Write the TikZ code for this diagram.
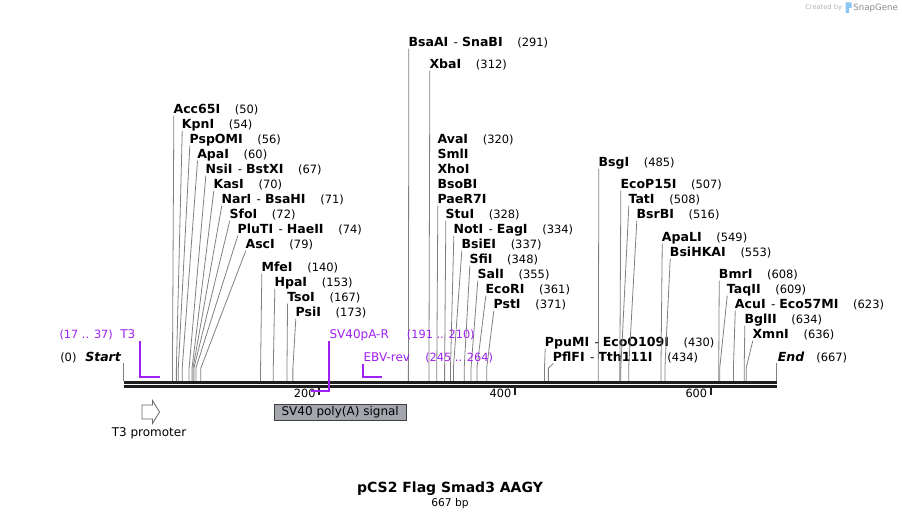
\documentclass[tikz,border=0pt]{standalone}
\usepackage{fontspec}
\setmainfont{DejaVu Sans}
\definecolor{primer}{RGB}{160,32,240}
\definecolor{featgray}{RGB}{163,167,173}
\definecolor{cutgray}{RGB}{128,128,128}
\definecolor{logoblue}{RGB}{140,200,240}
\newcommand{\ename}[1]{{\fontsize{9.4}{11}\selectfont\textbf{#1}}}
\newcommand{\enum}[1]{\hspace{11pt}{\fontsize{8.6}{10}\selectfont(#1)}}
\newcommand{\edash}{\hspace{4pt}-\hspace{3pt}}
\begin{document}
\begin{tikzpicture}[x=0.75pt,y=-0.75pt,
  lab/.style={anchor=base west,inner sep=0pt,font=\fontsize{9}{11}\selectfont},
  cutline/.style={draw=cutgray,line width=0.6pt},
  primerline/.style={draw=primer,line width=1.5pt},
  plab/.style={anchor=base west,inner sep=0pt,text=primer,font=\fontsize{9}{11}\selectfont},
  prng/.style={anchor=base west,inner sep=0pt,text=primer,font=\fontsize{8.5}{10}\selectfont},
  bb/.style={line width=2.25pt,draw=black!88},
  tickmark/.style={line width=1.5pt,draw=black!88},
  ticklab/.style={anchor=base east,inner sep=0pt,font=\fontsize{8.5}{10}\selectfont}]
\useasboundingbox (0,0) rectangle (902,520);

% ---------- restriction sites ----------
\foreach \i/\lx/\ly/\bp/\txt in {
  1/173.3/109/50/{\ename{Acc65I}\enum{50}},
  2/181.7/124/54/{\ename{KpnI}\enum{54}},
  3/189.3/139/56/{\ename{PspOMI}\enum{56}},
  4/197/154/60/{\ename{ApaI}\enum{60}},
  5/205.3/169/67/{\ename{NsiI}\edash\ename{BstXI}\enum{67}},
  6/213.3/184/70/{\ename{KasI}\enum{70}},
  7/221.3/199/71/{\ename{NarI}\edash\ename{BsaHI}\enum{71}},
  8/229.3/214/72/{\ename{SfoI}\enum{72}},
  9/237.3/229/74/{\ename{PluTI}\edash\ename{HaeII}\enum{74}},
  10/245.3/244/79/{\ename{AscI}\enum{79}},
  11/261.3/267/140/{\ename{MfeI}\enum{140}},
  12/274.3/282/153/{\ename{HpaI}\enum{153}},
  13/287/297/167/{\ename{TsoI}\enum{167}},
  14/295.3/312/173/{\ename{PsiI}\enum{173}},
  15/408.3/42/291/{\ename{BsaAI}\edash\ename{SnaBI}\enum{291}},
  16/429.3/64/312/{\ename{XbaI}\enum{312}},
  17/437.3/199/320/{\ename{PaeR7I}},
  18/445.3/214/328/{\ename{StuI}\enum{328}},
  19/453.3/229/334/{\ename{NotI}\edash\ename{EagI}\enum{334}},
  20/461.3/244/337/{\ename{BsiEI}\enum{337}},
  21/469.3/259/348/{\ename{SfiI}\enum{348}},
  22/477.3/274/355/{\ename{SalI}\enum{355}},
  23/485.3/289/361/{\ename{EcoRI}\enum{361}},
  24/493.3/304/371/{\ename{PstI}\enum{371}},
  25/544.7/342/430/{\ename{PpuMI}\edash\ename{EcoO109I}\enum{430}},
  26/552.7/357/434/{\ename{PflFI}\edash\ename{Tth111I}\enum{434}},
  27/598.3/162/485/{\ename{BsgI}\enum{485}},
  28/620.3/184/507/{\ename{EcoP15I}\enum{507}},
  29/628.3/199/508/{\ename{TatI}\enum{508}},
  30/636.3/214/516/{\ename{BsrBI}\enum{516}},
  31/661.7/237/549/{\ename{ApaLI}\enum{549}},
  32/669.7/252/553/{\ename{BsiHKAI}\enum{553}},
  33/718.7/274/608/{\ename{BmrI}\enum{608}},
  34/726.7/289/609/{\ename{TaqII}\enum{609}},
  35/734.7/304/623/{\ename{AcuI}\edash\ename{Eco57MI}\enum{623}},
  36/744.3/319/634/{\ename{BglII}\enum{634}},
  37/752.3/334/636/{\ename{XmnI}\enum{636}}}{
  \node[lab] (L\i) at (\lx,\ly+4.6) {\txt};
  \coordinate (K\i) at ({123.5+0.979*\bp},368);
  \coordinate (S\i) at ({123.5+0.979*\bp},381);
  \draw[cutline] ([xshift=0.4pt,yshift=-1.5pt]L\i.base west) -- (K\i) -- (S\i);
}
% AvaI group (shares one line with PaeR7I)
\node[lab] (Ava) at (437.3,139+4.6) {\ename{AvaI}\enum{320}};
\node[lab] (Sml) at (437.3,154+4.6) {\ename{SmlI}};
\node[lab] (Xho) at (437.3,169+4.6) {\ename{XhoI}};
\node[lab] (Bso) at (437.3,184+4.6) {\ename{BsoBI}};

% Start / End
\node[lab] (st0) at (60,361.8) {{\fontsize{8.6}{10}\selectfont(0)}};
\node[lab] (stn) at (85,361.8) {{\fontsize{9.4}{11}\selectfont\textbf{\textit{Start}}}};
\node[lab] (enn) at (777.5,361.8) {{\fontsize{9.4}{11}\selectfont\textbf{\textit{End}}}};
\node[lab] (en0) at (816,361.8) {{\fontsize{8.6}{10}\selectfont(667)}};
\coordinate (stT) at (123.8,363); \coordinate (stB) at (123.8,381);
\coordinate (enT) at (776.5,363); \coordinate (enB) at (776.5,381);
\draw[cutline] (stT) -- (stB);
\draw[cutline] (enT) -- (enB);

% ---------- backbone ----------
\coordinate (B1) at (123.5,382.2); \coordinate (B2) at (777,382.2);
\coordinate (B3) at (123.5,386.2); \coordinate (B4) at (777,386.2);
\draw[bb] (B1) -- (B2);
\draw[bb] (B3) -- (B4);

% ticks
\foreach \t in {200,400,600}{
  \coordinate (T\t a) at ({123.5+0.979*\t},388);
  \coordinate (T\t b) at ({123.5+0.979*\t},394.5);
  \draw[tickmark] (T\t a) -- (T\t b);
  \node[ticklab] (TL\t) at ({123.5+0.979*\t-3.5},397.8) {\t};
}

% ---------- primers ----------
\node[prng] (pT3r) at (59.3,338.8) {(17 .. 37)};
\node[plab] (pT3n) at (120,338.8) {T3};
\coordinate (pT3a) at (140.1,341); \coordinate (pT3b) at (140.1,377.3); \coordinate (pT3c) at (159.7,377.3);
\draw[primerline] (pT3a) -- (pT3b) -- (pT3c);

\node[plab] (pSVn) at (329.3,338.8) {SV40pA-R};
\node[prng] (pSVr) at (406.7,338.8) {(191 .. 210)};
\coordinate (pSVa) at (329.3,341); \coordinate (pSVb) at (329.3,390.8); \coordinate (pSVc) at (310.5,390.8);
\draw[primerline] (pSVa) -- (pSVb) -- (pSVc);

\node[plab] (pEBn) at (363.3,361.2) {EBV-rev};
\node[prng] (pEBr) at (425,361.2) {(245 .. 264)};
\coordinate (pEBa) at (363.3,363.5); \coordinate (pEBb) at (363.3,377.3); \coordinate (pEBc) at (382,377.3);
\draw[primerline] (pEBa) -- (pEBb) -- (pEBc);

% ---------- features ----------
\draw[fill=white,draw=black!60,line width=0.6pt]
  (142,405) -- (152.5,405) -- (152.5,400.5) -- (159.5,412) -- (152.5,423.5) -- (152.5,419) -- (142,419) -- cycle;
\node[inner sep=0pt,font=\fontsize{9}{11}\selectfont] (T3p) at (149,433.5) {T3 promoter};

\node[draw=black!75,fill=featgray,line width=0.75pt,minimum width=99pt,minimum height=12.3pt,inner sep=0pt,
      font=\fontsize{9}{11}\selectfont] (SV40) at (340.2,412.3) {SV40 poly(A) signal};

% ---------- title ----------
\node[inner sep=0pt,font=\fontsize{10.5}{12}\selectfont\bfseries] (title) at (450,489) {pCS2 Flag Smad3 AAGY};
\node[inner sep=0pt,font=\fontsize{8}{10}\selectfont] (size) at (450,504) {667 bp};

% ---------- logo ----------
\node[anchor=base west,inner sep=0pt,text=black!30,font=\fontsize{5}{6}\selectfont] (cby) at (805,10) {Created by};
\fill[logoblue] (845.5,2.5) rectangle (849,13) (845.5,2.5) rectangle (851.5,8);
\node[anchor=base west,inner sep=0pt,text=black!45,font=\fontsize{6.5}{8}\selectfont] (sg) at (853,10.5) {SnapGene};
\end{tikzpicture}
\end{document}
